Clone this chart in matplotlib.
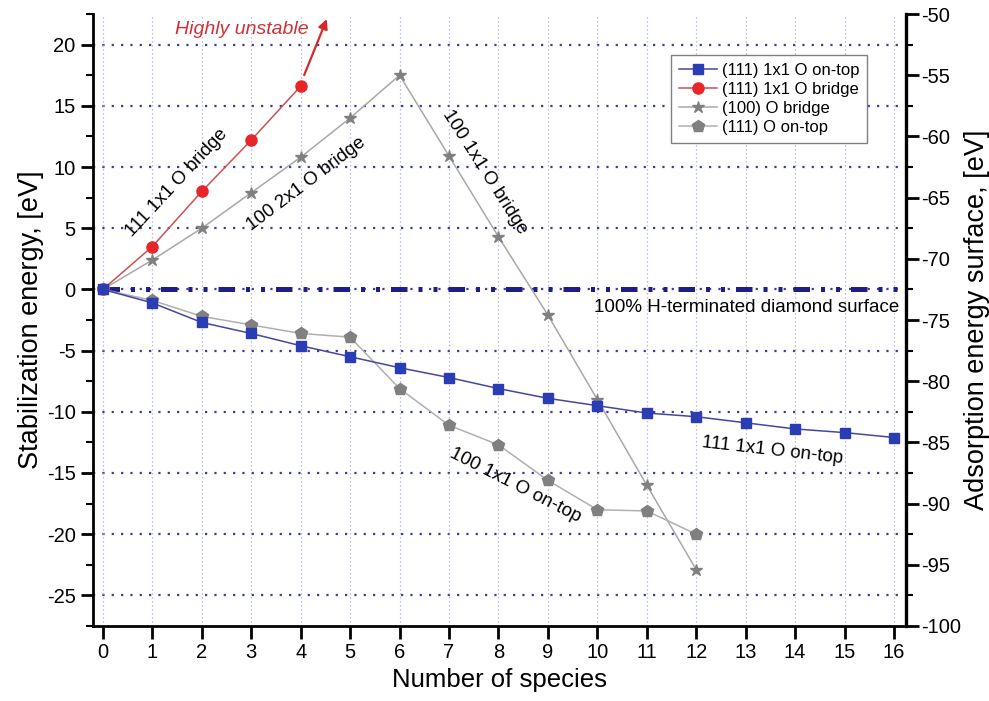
"""Stabilization energy vs number of adsorbed O species."""

import matplotlib
matplotlib.use("Agg")
import matplotlib.pyplot as plt
from matplotlib.ticker import MultipleLocator
import numpy as np

plt.rcParams["font.family"] = ["Liberation Sans", "DejaVu Sans"]
plt.rcParams["axes.unicode_minus"] = False

# --- data ---------------------------------------------------------------
n_ontop111 = np.arange(0, 17)
e_ontop111 = [0.0, -1.1, -2.7, -3.6, -4.6, -5.5, -6.4, -7.2, -8.1, -8.9,
              -9.5, -10.1, -10.4, -10.9, -11.4, -11.7, -12.1]

n_bridge111 = np.arange(0, 5)
e_bridge111 = [0.0, 3.5, 8.0, 12.2, 16.6]

n_bridge100 = np.arange(0, 13)
e_bridge100 = [0.0, 2.4, 5.0, 7.9, 10.8, 14.0, 17.5, 10.9, 4.3, -2.1,
               -9.0, -16.0, -22.9]

n_ontop100 = np.arange(0, 13)
e_ontop100 = [0.0, -0.9, -2.2, -2.9, -3.6, -3.9, -8.1, -11.1, -12.7,
              -15.6, -18.0, -18.1, -20.0]

series_labels = ["(111) 1x1 O on-top", "(111) 1x1 O bridge",
                 "(100) O bridge", "(111) O on-top"]

x_ticks = np.arange(0, 17)
left_ticks = np.arange(-25, 21, 5)
right_offset = -72.5   # adsorption energy = stabilization energy + offset

# --- figure -------------------------------------------------------------
fig = plt.figure(figsize=(9.89, 7.01), dpi=100)
ax = fig.add_axes([0.094, 0.107, 0.822, 0.873])
ax.set_xlim(-0.2, 16.24)
ax.set_ylim(-27.5, 22.5)

# grid
for yv in left_ticks:
    ax.axhline(yv, color="#3c3c9c", lw=1.6, ls=(0, (1, 3.2)), zorder=1)
for xv in x_ticks:
    ax.axvline(xv, color="#a4acd4", lw=0.9, ls=(0, (1, 2.2)), zorder=1)

# H-terminated reference line
ax.plot([0, 16.24], [0, 0], color="#1e1e8a", lw=3.6,
        ls=(0, (3.3, 2.2, 0.8, 2.2, 0.8, 2.2)), zorder=2)

ax.plot(n_bridge100, e_bridge100, color="#a8a8a8", lw=1.1, marker="*",
        ms=9, mfc="#808080", mec="#808080", label=series_labels[2], zorder=3)
ax.plot(n_ontop100, e_ontop100, color="#b0b0b0", lw=1.1, marker="p",
        ms=9, mfc="#808080", mec="#808080", label=series_labels[3], zorder=3)
ax.plot(n_bridge111, e_bridge111, color="#d05050", lw=1.1, marker="o",
        ms=8, mfc="#e8262a", mec="#e8262a", label=series_labels[1], zorder=4)
ax.plot(n_ontop111, e_ontop111, color="#4646a0", lw=1.1, marker="s",
        ms=7, mfc="#2b3db4", mec="#2b3db4", label=series_labels[0], zorder=5)

ax.annotate("", xy=(4.55, 22.3), xytext=(4.05, 17.3),
            arrowprops=dict(arrowstyle="-|>", color="#d42a2a", lw=1.6,
                            mutation_scale=14), annotation_clip=False)
ax.text(2.8, 21.2, "Highly unstable", color="#d03038", fontsize=14,
        style="italic", ha="center", va="center")

ax.text(1.5, 8.7, "111 1x1 O bridge", rotation=47, fontsize=13.5,
        ha="center", va="center", rotation_mode="anchor")
ax.text(4.11, 8.6, "100 2x1 O bridge", rotation=37, fontsize=13.5,
        ha="center", va="center", rotation_mode="anchor")
ax.text(7.73, 9.6, "100 1x1 O bridge", rotation=-57.5, fontsize=13.5,
        ha="center", va="center", rotation_mode="anchor")
ax.text(8.34, -16.0, "100 1x1 O on-top", rotation=-27, fontsize=13.5,
        ha="center", va="center", rotation_mode="anchor")
ax.text(13.55, -13.2, "111 1x1 O on-top", rotation=-6.5, fontsize=13.5,
        ha="center", va="center", rotation_mode="anchor")
ax.text(16.1, -1.5, "100% H-terminated diamond surface", fontsize=13.5,
        ha="right", va="center")

# axes styling
ax.spines["top"].set_visible(False)
ax.spines["right"].set_visible(False)
for s in ("left", "bottom"):
    ax.spines[s].set_linewidth(2)
ax.set_xticks(x_ticks)
ax.set_yticks(left_ticks)
ax.yaxis.set_minor_locator(MultipleLocator(2.5))
ax.tick_params(axis="both", which="major", direction="out", length=9,
               width=2, labelsize=14.5)
ax.tick_params(axis="y", which="minor", direction="out", length=5, width=1.5)
ax.set_xlabel("Number of species", fontsize=18.5, labelpad=4)
ax.set_ylabel("Stabilization energy, [eV]", fontsize=19.5, labelpad=2)

ax2 = ax.twinx()
ax2.set_ylim(ax.get_ylim()[0] + right_offset, ax.get_ylim()[1] + right_offset)
ax2.set_yticks(np.arange(-100, -49, 5))
ax2.yaxis.set_minor_locator(MultipleLocator(2.5))
for s in ("top", "left", "bottom"):
    ax2.spines[s].set_visible(False)
ax2.spines["right"].set_linewidth(2.4)
ax2.tick_params(axis="y", which="major", direction="out", length=9,
                width=2, labelsize=14.5, pad=2)
ax2.tick_params(axis="y", which="minor", direction="out", length=5, width=1.5)
ax2.set_ylabel("Adsorption energy surface, [eV]", fontsize=19.5, labelpad=2)

handles, labels = ax.get_legend_handles_labels()
order = [labels.index(l) for l in series_labels]
leg = ax.legend([handles[i] for i in order], [labels[i] for i in order],
                loc="upper right", bbox_to_anchor=(0.952, 0.933),
                borderaxespad=0, fontsize=12, fancybox=False,
                edgecolor="#808080", framealpha=1, handlelength=2.3,
                handletextpad=0.3, borderpad=0.45, labelspacing=0.25)
leg.get_frame().set_linewidth(1)
leg.set_zorder(10)

fig.savefig("out.png", dpi=100)
